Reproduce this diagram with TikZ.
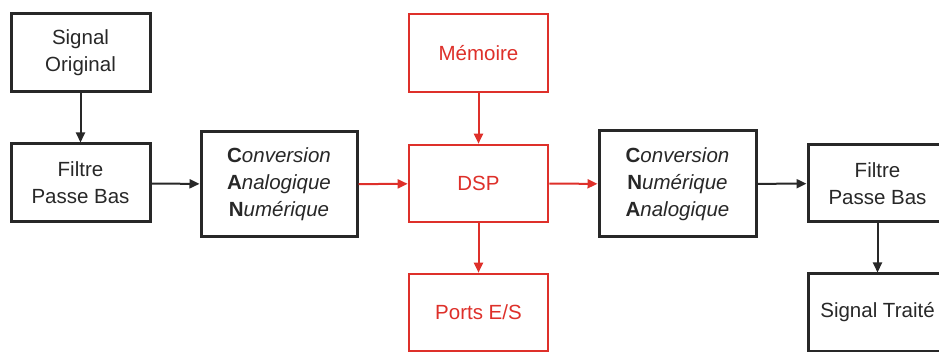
\documentclass[tikz,border=0pt]{standalone}
\usepackage{fontspec}
\setmainfont{Liberation Sans}
\usetikzlibrary{arrows.meta}
\definecolor{ink}{RGB}{40,40,40}
\definecolor{dspred}{RGB}{222,48,42}
\tikzset{
  blk/.style={draw=ink, line width=3pt, fill=white, inner sep=0pt, text=ink,
    align=center, font=\fontsize{20.5}{27}\selectfont},
  redblk/.style={blk, draw=dspred, line width=2.6pt, text=dspred},
  link/.style={draw=ink, line width=2pt, -{Triangle[length=10pt,width=9pt]}},
  redlink/.style={link, draw=dspred, fill=dspred}
}
\newcommand{\ini}[2]{\textbf{#1}\textit{#2}}
\begin{document}
\begin{tikzpicture}[x=1pt,y=-1pt]
  \useasboundingbox (0,0) rectangle (939,352);
  \clip (0,0) rectangle (939,352);
  % blocks: centres and sizes in picture units
  \node[blk, minimum width=139pt, minimum height=78pt] (orig) at (80.5,53) {Signal\\Original};
  \node[blk, minimum width=139pt, minimum height=78pt] (lpf1) at (80.5,183) {Filtre\\Passe Bas};
  \node[blk, minimum width=156pt, minimum height=105pt] (can) at (279,184.5)
    {\ini{C}{onversion}\\\ini{A}{nalogique}\\\ini{N}{umérique}};
  \node[redblk, minimum width=139pt, minimum height=78pt] (mem) at (478.5,53) {Mémoire};
  \node[redblk, minimum width=139pt, minimum height=77pt] (dsp) at (478.5,183.5) {DSP};
  \node[redblk, minimum width=139pt, minimum height=77pt] (ports) at (478.5,312.5) {Ports E/S};
  \node[blk, minimum width=157pt, minimum height=106pt] (cna) at (677.5,184)
    {\ini{C}{onversion}\\\ini{N}{umérique}\\\ini{A}{nalogique}};
  \node[blk, minimum width=139pt, minimum height=77pt] (lpf2) at (877.5,183.5) {Filtre\\Passe Bas};
  \node[blk, minimum width=139pt, minimum height=77pt] (out) at (877.5,312.5) {Signal Traité};
  % connectors
  \draw[link] (orig) -- (lpf1);
  \draw[link] (lpf1) -- (can);
  \draw[redlink] (can) -- (dsp);
  \draw[redlink] (mem) -- (dsp);
  \draw[redlink] (dsp) -- (ports);
  \draw[redlink] (dsp) -- (cna);
  \draw[link] (cna) -- (lpf2);
  \draw[link] (lpf2) -- (out);
\end{tikzpicture}
\end{document}
